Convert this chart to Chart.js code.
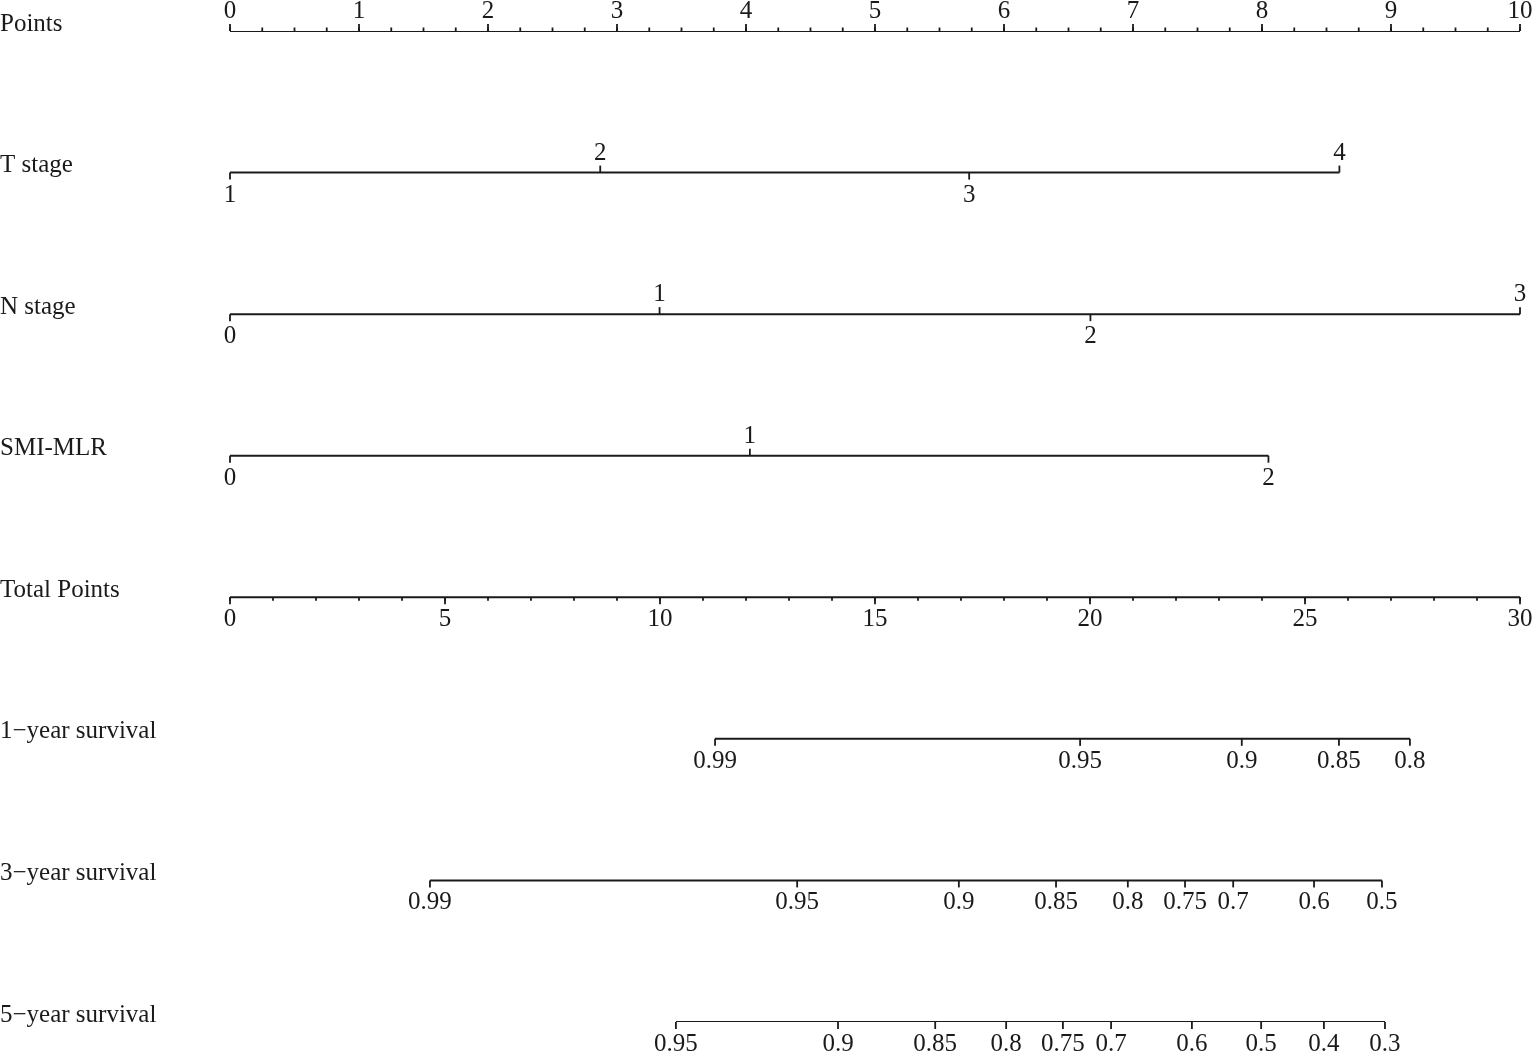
<!DOCTYPE html>
<html>
<head>
<meta charset="utf-8">
<script src="https://cdn.jsdelivr.net/npm/chart.js@4.4.1/dist/chart.umd.min.js"></script>
<style>
  html, body { margin: 0; padding: 0; background: #fff; }
  canvas { display: block; }
</style>
</head>
<body>
<canvas id="nomo" width="1535" height="1052"></canvas>
<script>
// rows of the nomogram, top to bottom
const rowNames = ['Points', 'T stage', 'N stage', 'SMI-MLR', 'Total Points',
  '1\u2212year survival', '3\u2212year survival', '5\u2212year survival'];

// Points scale (0-10)
const pointTicks = [0, 1, 2, 3, 4, 5, 6, 7, 8, 9, 10];

// predictors: label -> points
const tStageLabels = ['1', '2', '3', '4'];
const tStagePoints = [0, 2.87, 5.73, 8.60];
const nStageLabels = ['0', '1', '2', '3'];
const nStagePoints = [0, 3.33, 6.67, 10];
const smiLabels = ['0', '1', '2'];
const smiPoints = [0, 4.03, 8.05];

// Total points scale (0-30)
const totalTicks = [0, 5, 10, 15, 20, 25, 30];

// survival probabilities -> total points
const surv1Labels = ['0.99', '0.95', '0.9', '0.85', '0.8'];
const surv1Total = [11.28, 19.77, 23.53, 25.79, 27.44];
const surv3Labels = ['0.99', '0.95', '0.9', '0.85', '0.8', '0.75', '0.7', '0.6', '0.5'];
const surv3Total = [4.65, 13.19, 16.95, 19.21, 20.88, 22.21, 23.33, 25.21, 26.79];
const surv5Labels = ['0.95', '0.9', '0.85', '0.8', '0.75', '0.7', '0.6', '0.5', '0.4', '0.3'];
const surv5Total = [10.37, 14.14, 16.40, 18.05, 19.37, 20.49, 22.37, 23.98, 25.44, 26.86];

const INK = '#1a1a1a';
const FONT = '25px "Liberation Serif", "DejaVu Serif", serif';

// which rows use which x scale, and their ticks/labels
const rows = [
  { axis: 'x', values: pointTicks, labels: pointTicks.map(String), side: 'up' },
  { axis: 'x', values: tStagePoints, labels: tStageLabels, side: 'alt' },
  { axis: 'x', values: nStagePoints, labels: nStageLabels, side: 'alt' },
  { axis: 'x', values: smiPoints, labels: smiLabels, side: 'alt' },
  { axis: 'xt', values: totalTicks, labels: totalTicks.map(String), side: 'down' },
  { axis: 'xt', values: surv1Total, labels: surv1Labels, side: 'down' },
  { axis: 'xt', values: surv3Total, labels: surv3Labels, side: 'down' },
  { axis: 'xt', values: surv5Total, labels: surv5Labels, side: 'down' }
];

const datasets = rows.map((r, i) => ({
  label: rowNames[i],
  xAxisID: r.axis,
  yAxisID: 'y',
  data: [
    { x: Math.min(...r.values), y: i },
    { x: Math.max(...r.values), y: i }
  ],
  showLine: true,
  borderColor: INK,
  borderWidth: 2,
  pointRadius: 0
}));

function drawTick(ctx, px, py, up, len) {
  ctx.beginPath();
  ctx.moveTo(px, py);
  ctx.lineTo(px, up ? py - len : py + len);
  ctx.stroke();
}

const nomogramAxes = {
  id: 'nomogramAxes',
  afterDatasetsDraw(chart) {
    const ctx = chart.ctx;
    const y = chart.scales.y;
    ctx.save();
    ctx.strokeStyle = INK;
    ctx.fillStyle = INK;
    ctx.lineWidth = 1.8;
    ctx.font = FONT;

    // row names on the left
    ctx.textAlign = 'left';
    ctx.textBaseline = 'middle';
    rowNames.forEach((name, i) => ctx.fillText(name, 0, y.getPixelForValue(i) - 7));

    ctx.textBaseline = 'alphabetic';
    ctx.textAlign = 'center';
    rows.forEach((r, i) => {
      const sc = chart.scales[r.axis];
      const py = y.getPixelForValue(i);

      // minor ticks on the two point scales
      if (i === 0) {
        for (let v = 0; v <= 10; v += 0.25) drawTick(ctx, sc.getPixelForValue(v), py, true, 3.5);
      }
      if (i === 4) {
        for (let v = 0; v <= 30; v += 1) drawTick(ctx, sc.getPixelForValue(v), py, false, 3.5);
      }

      r.values.forEach((v, k) => {
        const px = sc.getPixelForValue(v);
        let up = r.side === 'up';
        if (r.side === 'alt') up = k % 2 === 1;
        drawTick(ctx, px, py, up, 7);
        ctx.fillText(r.labels[k], px, up ? py - 13 : py + 29);
      });
    });
    ctx.restore();
  }
};

new Chart(document.getElementById('nomo'), {
  type: 'scatter',
  data: { datasets },
  options: {
    responsive: false,
    animation: false,
    layout: { padding: { left: 230, right: 15, top: 31, bottom: 30 } },
    plugins: { legend: { display: false }, tooltip: { enabled: false } },
    scales: {
      x: { type: 'linear', min: 0, max: 10, display: false },
      xt: { type: 'linear', min: 0, max: 30, display: false },
      y: { type: 'linear', min: 0, max: 7, reverse: true, display: false }
    }
  },
  plugins: [nomogramAxes]
});
</script>
</body>
</html>
